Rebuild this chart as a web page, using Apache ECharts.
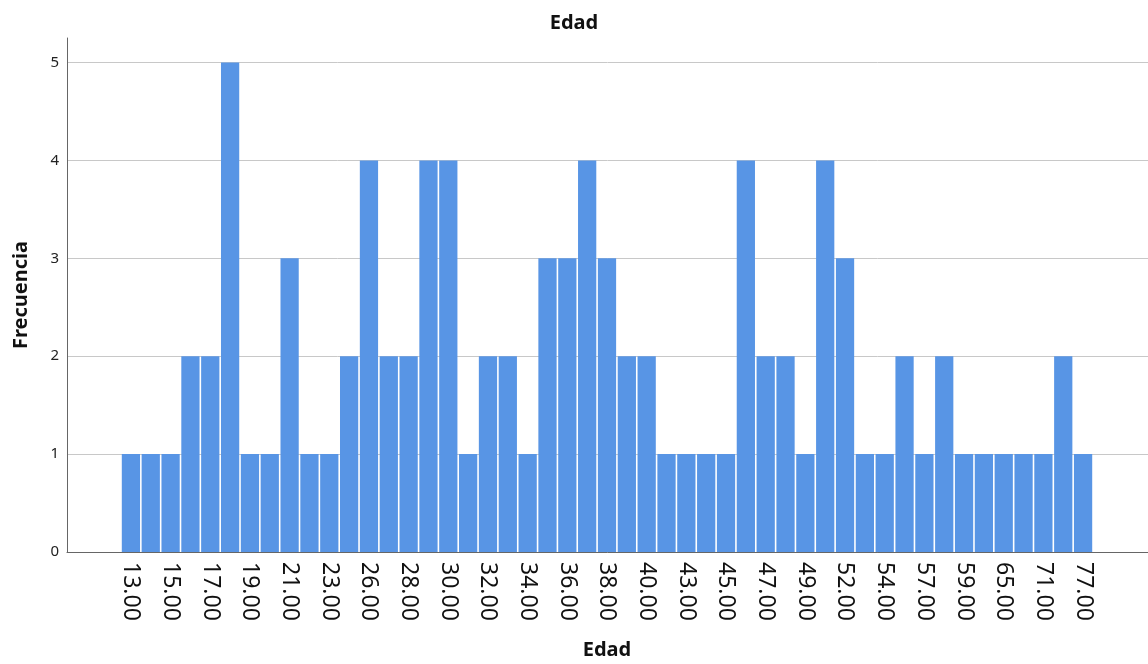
<!DOCTYPE html>
<html>
<head>
<meta charset="utf-8">
<script src="https://cdn.jsdelivr.net/npm/echarts@6/dist/echarts.min.js"></script>
<style>html,body{margin:0;padding:0;background:#fff}#c{width:1148px;height:664px}</style>
</head>
<body>
<div id="c"></div>
<script>
const categories = ['13.00','14.00','15.00','16.00','17.00','18.00','19.00','20.00','21.00','22.00',
  '23.00','25.00','26.00','27.00','28.00','29.00','30.00','31.00','32.00','33.00',
  '34.00','35.00','36.00','37.00','38.00','39.00','40.00','42.00','43.00','44.00',
  '45.00','46.00','47.00','48.00','49.00','50.00','52.00','53.00','54.00','55.00',
  '57.00','58.00','59.00','60.00','65.00','67.00','71.00','73.00','77.00'];
const frequencies = [1,1,1,2,2,5,1,1,3,1,
  1,2,4,2,2,4,4,1,2,2,
  1,3,3,4,3,2,2,1,1,1,
  1,4,2,2,1,4,3,1,1,2,
  1,2,1,1,1,1,1,2,1];
const yTicks = [0,1,2,3,4,5];

const font = '"Noto Sans", sans-serif';
const chart = echarts.init(document.getElementById('c'));
chart.setOption({
  animation: false,
  title: {text: 'Edad', left: 'center', top: 8,
    textStyle: {fontFamily: font, fontSize: 20, fontWeight: 'bold', color: '#111'}},
  grid: [
    {left: 67, right: 0, top: 38, bottom: 112, containLabel: false, outerBoundsMode: 'none'},
    {left: 121, right: 55, top: 38, bottom: 112, containLabel: false, outerBoundsMode: 'none'}
  ],
  xAxis: [
    {type: 'value', gridIndex: 0, min: 0, max: 1,
      axisLine: {show: true, lineStyle: {color: '#666', width: 1}},
      axisTick: {show: false}, axisLabel: {show: false}, splitLine: {show: false}},
    {type: 'category', gridIndex: 1, data: categories,
      name: 'Edad', nameLocation: 'middle', nameGap: 88,
      nameTextStyle: {fontFamily: font, fontSize: 20, fontWeight: 'bold', color: '#111'},
      axisLine: {show: false}, axisTick: {show: false},
      axisLabel: {interval: 1, rotate: -90, margin: 10, fontFamily: font, fontSize: 23, color: '#111'}}
  ],
  yAxis: [
    {type: 'value', gridIndex: 0, min: 0, max: 5.25, interval: 1,
      name: 'Frecuencia', nameLocation: 'middle', nameGap: 36,
      nameTextStyle: {fontFamily: font, fontSize: 20, fontWeight: 'bold', color: '#111'},
      axisLine: {show: true, lineStyle: {color: '#666', width: 1}},
      axisTick: {show: false},
      axisLabel: {margin: 8, fontFamily: font, fontSize: 15, color: '#222', showMaxLabel: false,
        formatter: v => yTicks.includes(v) ? String(v) : ''},
      splitLine: {show: true, showMaxLine: false, lineStyle: {color: '#c8c8c8', width: 1}}},
    {type: 'value', gridIndex: 1, min: 0, max: 5.25, show: false, splitLine: {show: false}}
  ],
  series: [{
    type: 'bar', xAxisIndex: 1, yAxisIndex: 1, data: frequencies,
    barCategoryGap: '8%',
    itemStyle: {color: '#5895e5'}
  }]
});
</script>
</body>
</html>
